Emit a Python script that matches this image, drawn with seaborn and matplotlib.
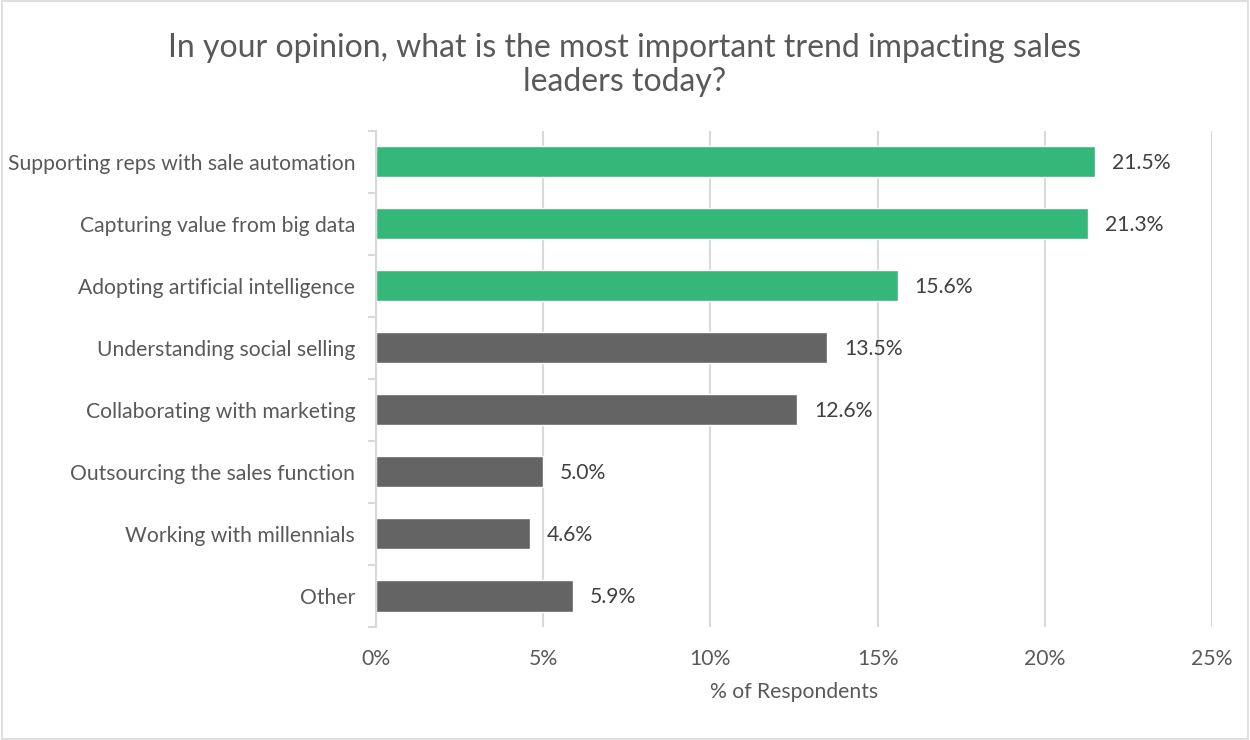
import matplotlib
matplotlib.use("Agg")
import matplotlib.pyplot as plt
import seaborn as sns
import pandas as pd
from matplotlib.patches import Rectangle
from matplotlib.ticker import FixedLocator

categories = [
    "Supporting reps with sale automation",
    "Capturing value from big data",
    "Adopting artificial intelligence",
    "Understanding social selling",
    "Collaborating with marketing",
    "Outsourcing the sales function",
    "Working with millennials",
    "Other",
]
values = [21.5, 21.3, 15.6, 13.5, 12.6, 5.0, 4.6, 5.9]
highlight = [True, True, True, False, False, False, False, False]
x_ticks = [0, 5, 10, 15, 20, 25]
x_tick_labels = ["0%", "5%", "10%", "15%", "20%", "25%"]

GREEN = "#35B779"
GREY = "#646464"
TEXT = "#595959"
LABEL = "#404040"
GRID = "#D9D9D9"
FS = 15.2

sns.set_theme(style="white")
plt.rcParams["font.family"] = ["Lato", "DejaVu Sans"]

df = pd.DataFrame({"trend": categories, "pct": values})
colors = {c: (GREEN if h else GREY) for c, h in zip(categories, highlight)}

fig = plt.figure(figsize=(12.5, 7.4), dpi=100)
ax = fig.add_axes([0.3008, 0.1527, 0.6688, 0.6703])

sns.barplot(data=df, y="trend", x="pct", hue="trend", palette=colors,
            order=categories, hue_order=categories, legend=False,
            width=0.5, saturation=1, ax=ax, zorder=3)

ax.set_xlim(0, 25)
ax.set_ylim(len(categories) - 0.5, -0.5)
ax.set_xticks(x_ticks)
ax.set_xticklabels(x_tick_labels)
ax.grid(axis="x", color=GRID, linewidth=1.5, zorder=0)
ax.grid(axis="y", visible=False)

for s in ["top", "right", "bottom"]:
    ax.spines[s].set_visible(False)
ax.spines["left"].set_color(GRID)
ax.spines["left"].set_linewidth(1.5)
ax.spines["left"].set_zorder(4)

# category labels, with tick marks drawn between categories
ax.tick_params(axis="y", which="major", length=0, pad=15, labelsize=FS, labelcolor=TEXT)
ax.yaxis.set_minor_locator(FixedLocator([i - 0.5 for i in range(len(categories) + 1)]))
ax.tick_params(axis="y", which="minor", length=6, width=1.5, color=GRID, left=True)
ax.tick_params(axis="x", length=0, pad=16, labelsize=FS, labelcolor=TEXT)

ax.set_ylabel("")
ax.set_xlabel("% of Respondents", fontsize=FS, color=TEXT, labelpad=9)

for i, v in enumerate(values):
    ax.annotate(f"{v:.1f}%", xy=(v, i), xytext=(12, -0.5), textcoords="offset points",
                va="center", ha="left", fontsize=FS, color=LABEL)

fig.text(0.5, 0.912, "In your opinion, what is the most important trend impacting sales\nleaders today?",
         ha="center", va="center", fontsize=23, color=TEXT, linespacing=1.15)

fig.patches.append(Rectangle((0.0015, 0.002), 0.997, 0.996, transform=fig.transFigure,
                             fill=False, edgecolor=GRID, linewidth=1.2))

fig.savefig("out.png", dpi=100, facecolor="white")
